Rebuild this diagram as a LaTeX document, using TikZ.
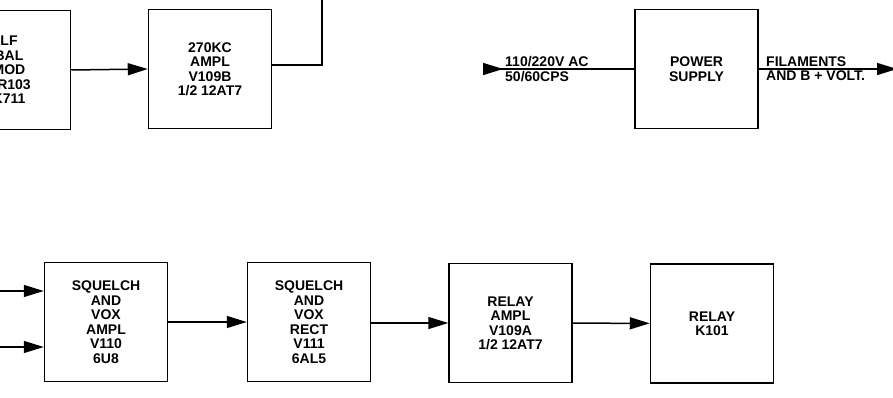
\documentclass[tikz,border=0pt]{standalone}
\usepackage{fontspec}
\setmainfont{Liberation Sans}
\usetikzlibrary{arrows.meta}
\begin{document}
\begin{tikzpicture}[x=1pt, y=-1pt, every node/.style={font=\fontsize{14}{14.5}\selectfont\bfseries},
  blk/.style={draw,line width=1.5pt,minimum width=123pt,minimum height=119pt,align=center,inner sep=0pt},
  sig/.style={line width=1.5pt,-{Triangle[length=20pt,width=12pt]}}]
\useasboundingbox (0,0) rectangle (893,398);
\clip (0,0) rectangle (893,398);
% upper row
\node[blk] (lfmod) at (9,70) {LF\\BAL\\MOD\\CR103\\K711};
\node[blk] (amp270) at (210,69) {\strut270KC\\AMPL\\V109B\\1/2 12AT7};
\coordinate (up) at (322,-5);
\draw[sig] (lfmod.east) -- (amp270.west);
\draw[line width=1.5pt] (amp270.east |- 0,65) -| (up);
% power supply
\node[blk] (power) at (696.5,69) {\strut POWER\\SUPPLY};
\coordinate (acin) at (483,69);
\coordinate (filout) at (897,69);
\draw[sig,{Triangle[reversed,length=20pt,width=12pt]}-] (acin) -- (power.west);
\draw[sig] (power.east) -- (filout);
\node[anchor=south west,inner sep=2pt] (acv) at (503,69) {110/220V AC};
\node[anchor=north west,inner sep=2pt] (cps) at (503,69) {50/60CPS};
\node[anchor=south west,inner sep=2pt] (fil) at (764,69) {FILAMENTS};
\node[anchor=north west,inner sep=2pt] (bplus) at (764,69) {AND B + VOLT.};
% lower row
\node[blk] (sqamp) at (106,322) {\strut SQUELCH\\AND\\VOX\\AMPL\\V110\\6U8};
\node[blk] (sqrect) at (309,322) {\strut SQUELCH\\AND\\VOX\\RECT\\V111\\6AL5};
\node[blk] (relamp) at (510.5,323) {\strut RELAY\\AMPL\\V109A\\1/2 12AT7};
\node[blk] (relay) at (712,323.5) {\strut RELAY\\K101};
\coordinate (ina) at (-5,291);
\coordinate (inb) at (-5,347);
\draw[sig] (ina) -- (ina -| sqamp.west);
\draw[sig] (inb) -- (inb -| sqamp.west);
\draw[sig] (sqamp) -- (sqrect);
\draw[sig] (sqrect.east |- 0,323) -- (relamp.west);
\draw[sig] (relamp) -- (relay);
\end{tikzpicture}
\end{document}
